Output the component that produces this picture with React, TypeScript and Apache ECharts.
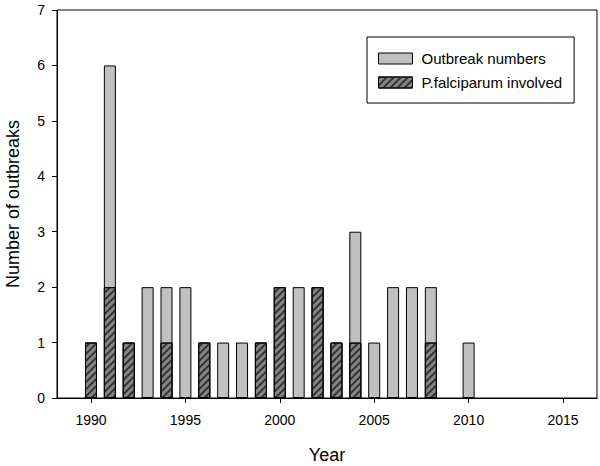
import React, { useEffect, useRef } from "react";
import * as echarts from "echarts";

const years = [1990, 1991, 1992, 1993, 1994, 1995, 1996, 1997, 1998, 1999, 2000, 2001, 2002, 2003, 2004, 2005, 2006, 2007, 2008, 2009, 2010];
const outbreakNumbers = [1, 6, 1, 2, 2, 2, 1, 1, 1, 1, 2, 2, 2, 1, 3, 1, 2, 2, 2, 0, 1];
const falciparumInvolved = [1, 2, 1, 0, 1, 0, 1, 0, 0, 1, 2, 0, 2, 1, 1, 0, 0, 0, 1, 0, 0];
const xTicks = [1990, 1995, 2000, 2005, 2010, 2015];
const seriesNames = ["Outbreak numbers", "P.falciparum involved"];

const FONT = "'Liberation Sans', Arial, sans-serif";

export default function App() {
  const ref = useRef<HTMLDivElement>(null);
  useEffect(() => {
    if (!ref.current) return;
    const chart = echarts.init(ref.current, undefined, { renderer: "svg" });
    const totalData = years.map((y, i) => [y, outbreakNumbers[i] > 0 ? outbreakNumbers[i] : null]);
    const pfData = years.map((y, i) => [y, falciparumInvolved[i] > 0 ? falciparumInvolved[i] : null]);
    chart.setOption({
      animation: false,
      backgroundColor: "#fff",
      grid: {
        left: 57,
        top: 10,
        right: 3,
        bottom: 68,
        show: true,
        borderColor: "#000",
        borderWidth: 1,
        backgroundColor: "transparent",
        containLabel: false,
        outerBoundsMode: "none",
      },
      legend: {
        orient: "vertical",
        left: 367,
        top: 37,
        padding: [14, 12, 13, 11],
        itemWidth: 34,
        itemHeight: 11,
        itemGap: 9,
        icon: "rect",
        borderColor: "#000",
        borderWidth: 1,
        backgroundColor: "#fff",
        textStyle: { fontFamily: FONT, fontSize: 15, color: "#000", padding: [0, 0, 0, 4] },
        itemStyle: { borderColor: "#000", borderWidth: 1 },
        data: seriesNames,
      },
      xAxis: {
        type: "value",
        min: 1988.2,
        max: 2016.8,
        name: "Year",
        nameLocation: "middle",
        nameGap: 48,
        nameTextStyle: { fontFamily: FONT, fontSize: 18, color: "#000" },
        axisLine: { show: true, lineStyle: { color: "#000", width: 1 } },
        axisTick: { show: true, length: 5, lineStyle: { color: "#000" }, customValues: xTicks },
        axisLabel: {
          fontFamily: FONT,
          fontSize: 14,
          color: "#000",
          margin: 15,
          customValues: xTicks,
          formatter: (v: number) => String(v),
        },
        splitLine: { show: false },
      },
      yAxis: {
        type: "value",
        min: 0,
        max: 7,
        interval: 1,
        name: "Number of outbreaks",
        nameLocation: "middle",
        nameGap: 35,
        nameTextStyle: { fontFamily: FONT, fontSize: 18, color: "#000" },
        axisLine: { show: true, lineStyle: { color: "#000", width: 1 } },
        axisTick: { show: true, length: 5, lineStyle: { color: "#000" } },
        axisLabel: { fontFamily: FONT, fontSize: 14, color: "#000", margin: 12 },
        splitLine: { show: false },
      },
      series: [
        {
          name: seriesNames[0],
          type: "bar",
          barWidth: 12,
          barGap: "-100%",
          data: totalData,
          itemStyle: { color: "#c0c0c0", borderColor: "#000", borderWidth: 1 },
        },
        {
          name: seriesNames[1],
          type: "bar",
          barWidth: 12,
          barGap: "-100%",
          data: pfData,
          itemStyle: {
            color: "#858585",
            borderColor: "#000",
            borderWidth: 1,
            decal: {
              symbol: "rect",
              symbolSize: 1,
              color: "#333333",
              dashArrayX: [1, 0],
              dashArrayY: [1.2, 2.8],
              rotation: -Math.PI / 4,
            },
          },
        },
      ],
    });
    return () => chart.dispose();
  }, []);
  return (
    <div
      ref={ref}
      style={{ position: "fixed", left: 0, top: 0, width: 600, height: 466, background: "#fff" }}
    />
  );
}
